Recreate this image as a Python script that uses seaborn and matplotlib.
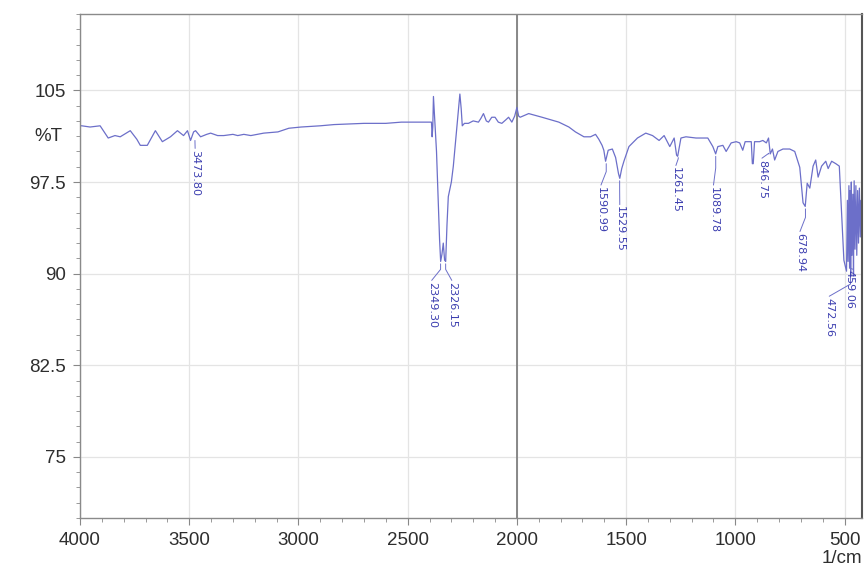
import numpy as np
import pandas as pd
import matplotlib
matplotlib.use("Agg")
import matplotlib.pyplot as plt
import matplotlib.transforms as mtransforms
from matplotlib.ticker import MultipleLocator
import seaborn as sns

# FTIR spectrum (wavenumber 1/cm, transmittance %T)
wavenumber = [4000, 3992, 3954, 3908, 3871, 3840, 3816, 3770, 3740, 3724, 3692, 3655, 3623,
              3586, 3554, 3526, 3508, 3494, 3480, 3471, 3448, 3420, 3402, 3370, 3342, 3300,
              3278, 3250, 3218, 3159, 3094, 3044, 2988, 2900, 2837, 2700, 2600, 2529, 2450,
              2391, 2388, 2385, 2382, 2376, 2368, 2360, 2354, 2349, 2343, 2337, 2331, 2326,
              2320, 2314, 2300, 2291, 2276, 2261, 2255, 2250, 2240, 2222, 2200, 2176, 2165,
              2153, 2140, 2130, 2115, 2100, 2085, 2069, 2050, 2038, 2023, 2010, 2000, 1992,
              1985, 1946, 1885, 1808, 1762, 1732, 1693, 1663, 1640, 1625, 1610, 1602, 1594,
              1586, 1582, 1563, 1548, 1535, 1529, 1520, 1510, 1487, 1448, 1410, 1379, 1349,
              1326, 1300, 1280, 1269, 1264, 1249, 1226, 1180, 1126, 1103, 1090, 1080, 1057,
              1042, 1019, 996, 980, 966, 955, 927, 922, 918, 912, 889, 874, 858, 848, 840,
              830, 820, 805, 782, 751, 728, 705, 690, 680, 671, 659, 644, 632, 621, 605, 586,
              575, 559, 540, 524, 513, 503, 491, 487, 484, 480, 477, 474, 472, 469, 466, 462,
              459, 456, 452, 448, 444, 440, 436, 432, 428, 425]
transmittance = [102.1, 102.1, 102.0, 102.1, 101.1, 101.3, 101.2, 101.7, 101.0, 100.5, 100.5,
                 101.7, 100.8, 101.2, 101.7, 101.3, 101.7, 100.9, 101.6, 101.7, 101.2, 101.4,
                 101.5, 101.3, 101.3, 101.4, 101.3, 101.4, 101.3, 101.5, 101.6, 101.9, 102.0,
                 102.1, 102.2, 102.3, 102.3, 102.4, 102.4, 102.4, 101.2, 102.0, 104.5, 102.5,
                 100.0, 96.0, 92.8, 91.0, 91.6, 92.5, 91.1, 91.0, 94.0, 96.3, 97.5, 98.8,
                 101.7, 104.7, 103.5, 102.1, 102.3, 102.3, 102.5, 102.4, 102.7, 103.1, 102.5,
                 102.4, 102.8, 102.8, 102.4, 102.3, 102.6, 102.8, 102.4, 102.9, 103.6, 102.9,
                 102.8, 103.1, 102.8, 102.4, 102.0, 101.6, 101.2, 101.2, 101.4, 101.0, 100.5,
                 100.1, 99.2, 99.8, 100.1, 100.2, 99.5, 98.2, 97.8, 98.6, 99.2, 100.4, 101.1,
                 101.5, 101.3, 100.9, 101.3, 100.4, 101.1, 99.7, 99.6, 101.1, 101.2, 101.1,
                 101.1, 100.4, 99.8, 100.4, 100.5, 100.0, 100.7, 100.8, 100.7, 100.1, 100.8,
                 100.8, 99.0, 99.0, 100.8, 100.8, 100.9, 100.7, 101.1, 99.8, 100.2, 99.3,
                 100.0, 100.2, 100.2, 100.0, 98.7, 95.8, 95.5, 97.4, 97.0, 98.8, 99.3, 97.9,
                 98.8, 99.2, 98.6, 99.2, 99.0, 98.8, 94.7, 91.1, 90.2, 96.0, 91.0, 97.2, 90.5,
                 96.8, 89.8, 97.5, 91.5, 96.5, 89.9, 97.6, 92.0, 97.2, 91.5, 96.8, 92.5, 97.0,
                 93.0, 96.0]

# peak labels: text, peak position, where the label sits
peak_text = ["3473.80", "2349.30", "2326.15", "1590.99", "1529.55", "1261.45",
             "1089.78", "846.75", "678.94", "472.56", "459.06"]
peak_wn = [3473.8, 2349.3, 2326.15, 1590.99, 1529.55, 1261.45, 1089.78, 846.75, 678.94, 472.56, 459.06]
peak_t = [100.9, 90.8, 90.8, 99.0, 97.6, 99.5, 99.6, 99.8, 95.3, 89.7, 89.8]
label_wn = [3473, 2390, 2298, 1615, 1529, 1272, 1100, 878, 704, 570, 478]
label_t = [100.1, 89.3, 89.3, 97.1, 95.5, 98.7, 97.1, 99.3, 93.3, 88.0, 90.3]

y_ticks = [75, 82.5, 90, 97.5, 105]
y_tick_labels = ["75", "82.5", "90", "97.5", "105"]
x_ticks = [4000, 3500, 3000, 2500, 2000, 1500, 1000, 500]

df = pd.DataFrame({"wn": wavenumber, "T": transmittance})

sns.set_style("white")
plt.rcParams['font.family'] = ['Liberation Sans', 'DejaVu Sans']

fig = plt.figure(figsize=(8.66, 5.69), dpi=100)
ax = fig.add_axes([0.0924, 0.0896, 0.903, 0.8858])

line_col = '#6c6fc9'
text_col = '#3d3fb0'
label_col = '#2e2e2e'

sns.lineplot(data=df, x="wn", y="T", estimator=None, color=line_col, linewidth=0.9, ax=ax)

ax.set_xlim(4000, 420)
ax.set_ylim(70, 111.25)

ax.set_xticks(x_ticks)
ax.set_yticks(y_ticks)
ax.set_yticklabels(y_tick_labels)
ax.xaxis.set_minor_locator(MultipleLocator(100))
ax.yaxis.set_minor_locator(MultipleLocator(1.25))
ax.tick_params(axis='both', which='both', bottom=True, left=True, top=False, right=False)
ax.tick_params(axis='both', which='major', direction='out', length=5, width=0.8,
               color='#888888', labelsize=13.5, labelcolor=label_col)
ax.tick_params(axis='both', which='minor', direction='out', length=3, width=0.7, color='#999999')
ax.tick_params(axis='y', which='major', pad=5)
ax.tick_params(axis='x', which='major', pad=5)

ax.grid(True, which='major', color='#e4e4e4', linewidth=0.9)
ax.set_axisbelow(True)
ax.axvline(2000, color='#808080', linewidth=1.3, zorder=1)

for side in ['left', 'bottom', 'top', 'right']:
    ax.spines[side].set_color('#8a8a8a')
    ax.spines[side].set_linewidth(1.0)
ax.spines['right'].set_color('#555555')
ax.spines['right'].set_linewidth(1.5)

ax.set_xlabel("")
ax.set_ylabel("")

# peak markers
for txt, pw, pt, lw_, lt in zip(peak_text, peak_wn, peak_t, label_wn, label_t):
    ax.plot([pw, pw, lw_], [pt, (pt + lt) / 2 + 0.3, lt + 0.15], color=line_col, linewidth=0.7)
    ax.text(lw_, lt, txt, rotation=270, ha='center', va='top', fontsize=8,
            color=text_col, family=['DejaVu Sans'])

# %T label and unit
trans_y = mtransforms.blended_transform_factory(ax.transAxes, ax.transData)
ax.text(-0.022, 101.25, "%T", transform=trans_y, ha='right', va='center',
        fontsize=13.5, color=label_col)
fig.text(0.996, 0.0176, "1/cm", ha='right', va='center', fontsize=13.5, color=label_col)

plt.savefig("out.png", dpi=100)
